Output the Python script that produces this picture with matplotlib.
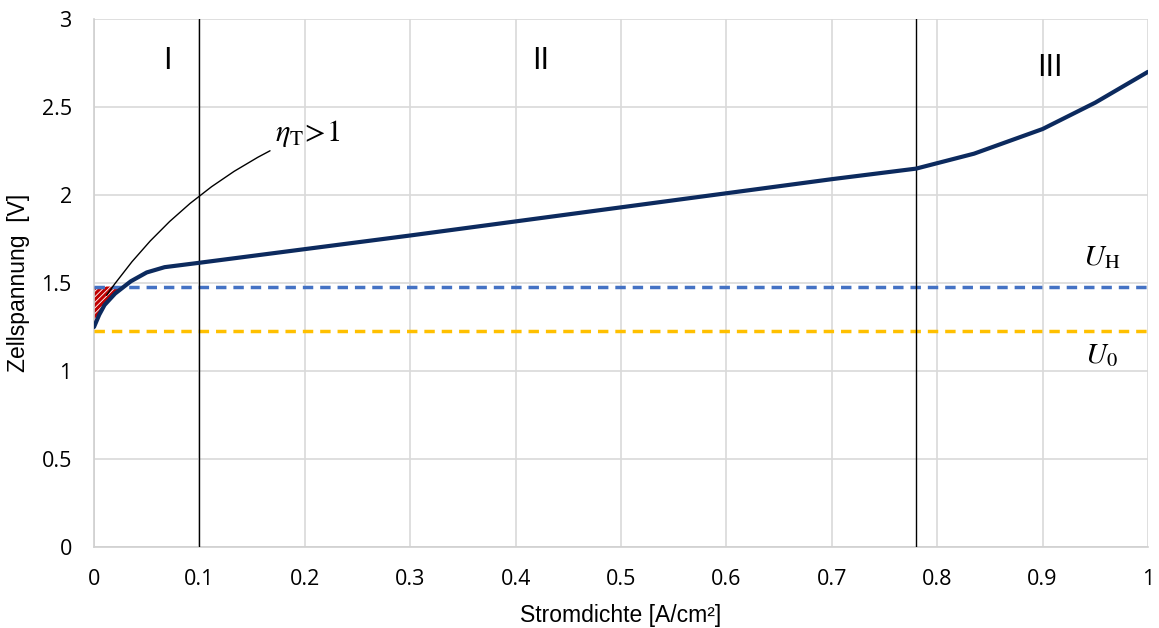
import matplotlib
matplotlib.use("Agg")
import matplotlib.pyplot as plt
import numpy as np

plt.rcParams['font.family'] = ['Liberation Sans', 'DejaVu Sans']
plt.rcParams['mathtext.fontset'] = 'stix'
plt.rcParams['hatch.linewidth'] = 2.2
plt.rcParams['hatch.color'] = '#c00000'

# Data
current_density = [0.0, 0.005, 0.01, 0.02, 0.035, 0.05, 0.067, 0.1, 0.3, 0.5, 0.7, 0.78, 0.835, 0.9, 0.95, 1.0]
cell_voltage = [1.25, 1.32, 1.375, 1.44, 1.51, 1.56, 1.59, 1.615, 1.77, 1.93, 2.09, 2.15, 2.235, 2.375, 2.525, 2.70]
U_H = 1.48
U_0 = 1.23
region_bounds = [0.1, 0.78]
region_labels = ["I", "II", "III"]
region_label_x = [0.07, 0.424, 0.907]
region_label_y = [2.76, 2.76, 2.72]
x_ticks = [0, 0.1, 0.2, 0.3, 0.4, 0.5, 0.6, 0.7, 0.8, 0.9, 1]
x_ticklabels = ["0", "0.1", "0.2", "0.3", "0.4", "0.5", "0.6", "0.7", "0.8", "0.9", "1"]
y_ticks = [0, 0.5, 1, 1.5, 2, 2.5, 3]
y_ticklabels = ["0", "0.5", "1", "1.5", "2", "2.5", "3"]

fig = plt.figure(figsize=(11.59, 6.28), dpi=100)
ax = fig.add_axes([0.0811, 0.129, 0.9094, 0.8407])

ax.set_xlim(0, 1)
ax.set_ylim(0, 3)
ax.set_xticks(x_ticks)
ax.set_xticklabels(x_ticklabels, fontfamily=['Open Sans', 'DejaVu Sans'])
ax.set_yticks(y_ticks)
ax.set_yticklabels(y_ticklabels, fontfamily=['Open Sans', 'DejaVu Sans'])
ax.grid(True, color='#d9d9d9', linewidth=1.2)
ax.set_axisbelow(True)
for s in ['top', 'right']:
    ax.spines[s].set_visible(False)
for s in ['left', 'bottom']:
    ax.spines[s].set_color('#d0d0d0')
    ax.spines[s].set_linewidth(1.2)
ax.tick_params(length=0, labelsize=15.5, colors='black')
ax.tick_params(axis='x', pad=16)
ax.tick_params(axis='y', pad=16)

# hatched region (eta_T > 1)
xs = np.array(current_density)
ys = np.array(cell_voltage)
xf = np.linspace(0, 0.033, 40)
yf = np.interp(xf, xs, ys)
ax.fill_between(xf, yf, U_H, where=yf <= U_H, facecolor='none', edgecolor='#c00000',
                hatch='//////', linewidth=0, zorder=2)

ax.axhline(U_H, color='#4472c4', linestyle=(0, (3, 2)), linewidth=2.5, zorder=3)
ax.axhline(U_0, color='#ffc000', linestyle=(0, (3, 2)), linewidth=2.5, zorder=3)

for xb in region_bounds:
    ax.axvline(xb, color='black', linewidth=1.0, zorder=4)

ax.plot(current_density, cell_voltage, color='#0c2a5e', linewidth=3.0, zorder=5,
        solid_capstyle='round')

for lab, lx, ly in zip(region_labels, region_label_x, region_label_y):
    ax.text(lx, ly, lab, fontsize=22, ha='center', va='center')

ax.text(0.956, 1.645, r'$U_{\mathrm{H}}$', fontsize=21, ha='center', va='center')
ax.text(0.956, 1.09, r'$U_{0}$', fontsize=21, ha='center', va='center')

ax.annotate(r'$\eta_{\mathrm{T}}\!>\!1$', xy=(0.012, 1.43), xytext=(0.172, 2.35),
            fontsize=22, ha='left', va='center',
            arrowprops=dict(arrowstyle='-', color='black', linewidth=1.0,
                            connectionstyle='arc3,rad=0.15', shrinkA=2, shrinkB=0))

ax.set_xlabel('Stromdichte [A/cm²]', fontsize=16.5, labelpad=10)
ax.set_ylabel('Zellspannung  [V]', fontsize=16.5, labelpad=8)

fig.savefig('out.png', dpi=100)
